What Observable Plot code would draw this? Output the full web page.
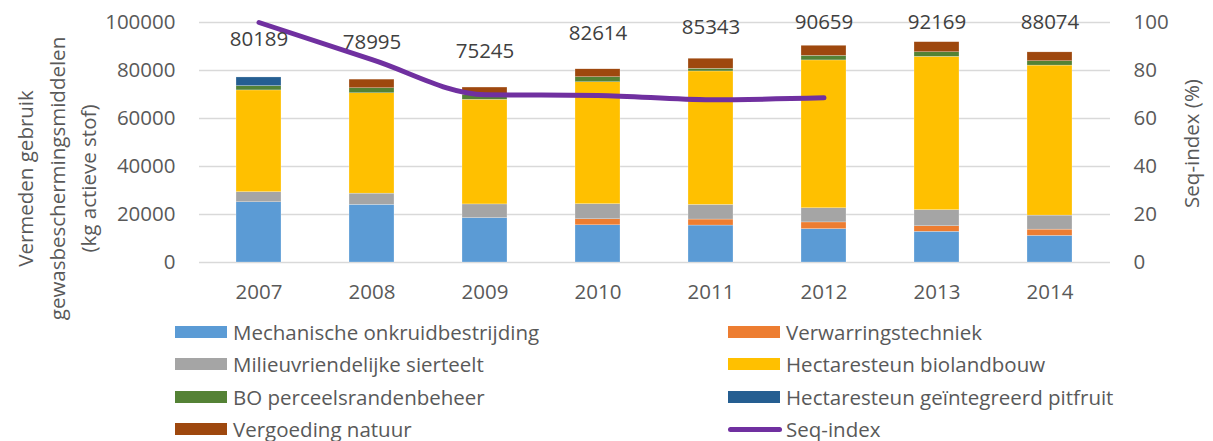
<!DOCTYPE html>
<html><head><meta charset="utf-8">
<script src="https://cdn.jsdelivr.net/npm/d3@7"></script>
<script src="https://cdn.jsdelivr.net/npm/@observablehq/plot@0.6"></script>
<style>
body{margin:0;background:#fff;font-family:"Open Sans",sans-serif;}
#wrap{position:relative;width:1213px;height:441px;}
.leg{position:absolute;font-size:20.5px;color:#595959;display:flex;align-items:center;height:22px;line-height:22px;white-space:nowrap;}
.sw{width:52px;height:12px;margin-right:6px;flex:none;}
.ln{width:54px;height:5px;border-radius:3px;margin-right:4px;flex:none;}
</style></head><body><div id="wrap"></div>
<script>
const years = ["2007","2008","2009","2010","2011","2012","2013","2014"];
const seriesNames = [
  "Mechanische onkruidbestrijding",
  "Verwarringstechniek",
  "Milieuvriendelijke sierteelt",
  "Hectaresteun biolandbouw",
  "BO perceelsrandenbeheer",
  "Hectaresteun geïntegreerd pitfruit",
  "Vergoeding natuur"
];
const seriesColors = ["#5B9BD5","#ED7D31","#A5A5A5","#FFC000","#548235","#255E91","#9E480E"];
const mechanisch = [25100, 24000, 18500, 15500, 15400, 13900, 12800, 11100];
const verwarring = [0, 0, 0, 2500, 2500, 2800, 2300, 2600];
const milieu = [4200, 4700, 5700, 6300, 6100, 5900, 6700, 5850];
const biolandbouw = [42400, 41800, 43600, 50800, 55600, 61600, 63900, 62500];
const perceelsrand = [1800, 2100, 2100, 2100, 1100, 1900, 1900, 1800];
const pitfruit = [3600, 0, 0, 0, 0, 0, 0, 0];
const natuur = [0, 3600, 3000, 3300, 4200, 4200, 4200, 3700];
const seqIndex = [100, 84.5, 69.9, 69.6, 67.8, 68.6, null, null];
const totalLabels = [80189, 78995, 75245, 82614, 85343, 90659, 92169, 88074];
const leftTicks = [0, 20000, 40000, 60000, 80000, 100000];
const rightTicks = [0, 20, 40, 60, 80, 100];
const yTitle = "Vermeden gebruik\ngewasbeschermingsmiddelen\n(kg actieve stof)";
const y2Title = "Seq-index (%)";
const lineName = "Seq-index";
const lineColor = "#7030A0";

const allSeries = [mechanisch, verwarring, milieu, biolandbouw, perceelsrand, pitfruit, natuur];
const table = [];
seriesNames.forEach((s, i) => years.forEach((y, j) => table.push({year: y, series: s, value: allSeries[i][j]})));
const lineData = years.map((y, j) => ({year: y, v: seqIndex[j] == null ? null : seqIndex[j] * 1000}));
const labelData = years.map((y, j) => ({year: y, label: totalLabels[j], pos: Math.min(totalLabels[j] + 12800, 100000)}));

const chart = Plot.plot({
  width: 1213, height: 312,
  marginLeft: 199, marginRight: 103, marginTop: 22, marginBottom: 50,
  style: {fontFamily: "'Open Sans', sans-serif", fontSize: "20px", color: "#595959", background: "white", overflow: "visible"},
  x: {domain: years, paddingInner: 0.6, paddingOuter: 0.3, label: null},
  y: {domain: [0, 100000], label: null},
  color: {domain: seriesNames, range: seriesColors},
  marks: [
    Plot.gridY(leftTicks, {stroke: "#d9d9d9", strokeOpacity: 1, strokeWidth: 1.4}),
    Plot.barY(table, {x: "year", y: "value", fill: "series", stroke: "white", strokeWidth: 0.4, strokeOpacity: 0.6}),
    Plot.line(lineData, {x: "year", y: "v", stroke: lineColor, strokeWidth: 5, curve: "monotone-x", strokeLinecap: "round"}),
    Plot.text(labelData, {x: "year", y: "pos", text: d => String(d.label), fill: "#404040", fontSize: 20.5}),
    Plot.axisY(leftTicks, {anchor: "left", tickSize: 0, tickPadding: 24, tickFormat: d => String(d), fill: "#595959", fontSize: 20.5, label: null}),
    Plot.axisY(leftTicks, {anchor: "right", tickSize: 0, tickPadding: 23, tickFormat: (d, i) => String(rightTicks[i]), fill: "#595959", fontSize: 20.5, label: null}),
    Plot.axisX({tickSize: 0, tickPadding: 22, fill: "#595959", fontSize: 20.5, label: null}),
    Plot.text([yTitle], {frameAnchor: "left", textAnchor: "middle", rotate: -90, dx: -145, dy: 36, fill: "#595959", fontSize: 20.5, lineHeight: 1.55}),
    Plot.text([y2Title], {frameAnchor: "right", textAnchor: "middle", rotate: -90, dx: 82, dy: 1, fill: "#595959", fontSize: 20.5})
  ]
});
const wrap = document.getElementById("wrap");
wrap.appendChild(chart);

const legendItems = [];
seriesNames.forEach((s, i) => legendItems.push({name: s, color: seriesColors[i], type: "rect"}));
legendItems.push({name: lineName, color: lineColor, type: "line"});
const colX = [175, 728];
const rowY = [332, 364, 397, 429];
legendItems.forEach((it, k) => {
  const d = document.createElement("div");
  d.className = "leg";
  d.style.left = colX[k % 2] + "px";
  d.style.top = (rowY[Math.floor(k / 2)] - 11) + "px";
  const sw = document.createElement("span");
  sw.className = it.type === "line" ? "ln" : "sw";
  sw.style.background = it.color;
  d.appendChild(sw);
  const t = document.createElement("span");
  t.textContent = it.name;
  d.appendChild(t);
  wrap.appendChild(d);
});
</script></body></html>
